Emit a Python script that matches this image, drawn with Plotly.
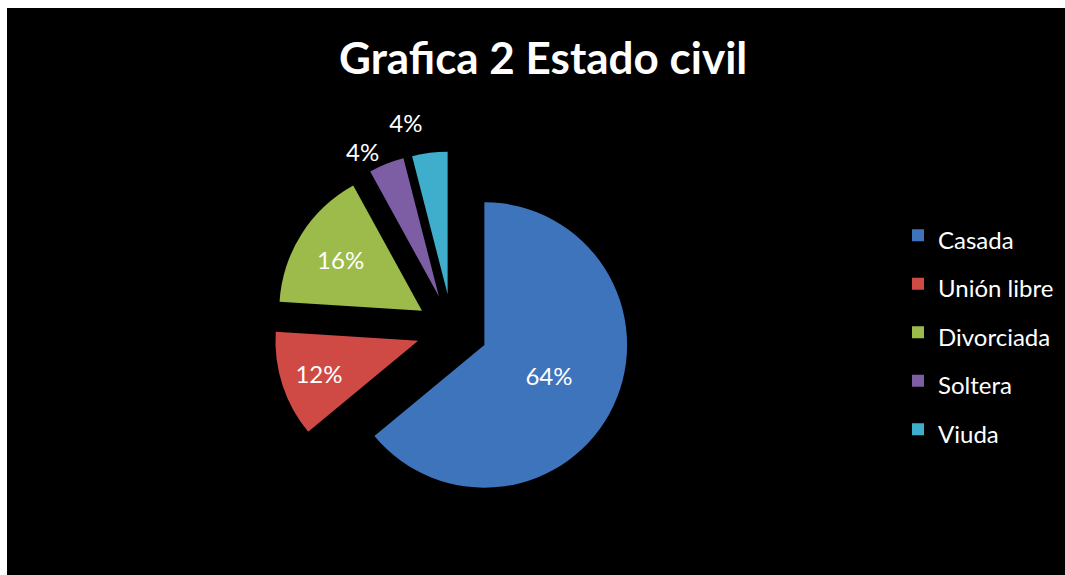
import plotly.graph_objects as go

categories = ["Casada", "Unión libre", "Divorciada", "Soltera", "Viuda"]
values = [64, 12, 16, 4, 4]
colors = ["#3E74BC", "#CF4A45", "#9CBB4A", "#7D5EA5", "#3FAECD"]
text_positions = ["inside", "inside", "inside", "outside", "outside"]
title_text = "Grafica 2 Estado civil"

legend_labels = ["<span style='font-size:24px'>%s</span>" % c for c in categories]

fig = go.Figure()
fig.add_trace(go.Pie(
    labels=legend_labels,
    values=values,
    sort=False,
    direction="clockwise",
    rotation=0,
    pull=0.25,
    marker=dict(colors=colors, line=dict(width=0)),
    textinfo="percent",
    texttemplate="%{percent:.0%}",
    textposition=text_positions,
    insidetextorientation="horizontal",
    textfont=dict(family="Lato", size=24, color="white"),
    outsidetextfont=dict(family="Lato", size=24, color="white"),
    domain=dict(x=[0.257, 0.592], y=[0.116, 0.737]),
    automargin=False,
    showlegend=True,
))

fig.update_layout(
    width=1065, height=575,
    margin=dict(l=0, r=0, t=0, b=0),
    paper_bgcolor="white",
    plot_bgcolor="black",
    shapes=[dict(type="rect", xref="paper", yref="paper",
                 x0=7 / 1065, x1=1, y0=0, y1=1 - 8 / 575,
                 fillcolor="black", line=dict(width=0), layer="below")],
    title=dict(text=title_text, x=0.51, xanchor="center", y=1 - 59 / 575, yanchor="middle",
               font=dict(family="Lato", size=44, color="white", weight="bold")),
    legend=dict(x=898 / 1065, xanchor="left", y=1 - 206 / 575, yanchor="top",
                font=dict(family="Lato", size=35, color="white"),
                bgcolor="rgba(0,0,0,0)", itemwidth=30),
)

hide_lines = "document.querySelectorAll('path.textline').forEach(function(p){p.style.display='none';});"
fig.write_html("out.html", post_script=hide_lines)
